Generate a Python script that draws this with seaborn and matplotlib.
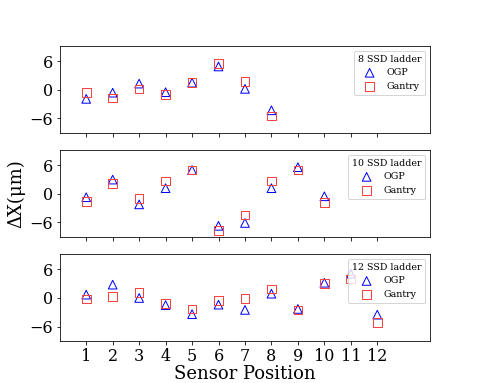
import numpy as np
import pandas as pd
import matplotlib
matplotlib.use('Agg')
import matplotlib.pyplot as plt
import seaborn as sns

plt.rcParams['font.family'] = ['DejaVu Serif']

ladders = ['8 SSD ladder', '10 SSD ladder', '12 SSD ladder']

ogp_8 = [-1.9, -0.6, 1.3, -0.5, 1.5, 4.9, 0.2, -4.3]
gantry_8 = [-0.5, -1.7, 0.2, -1.0, 1.5, 5.5, 1.7, -5.5]

ogp_10 = [-0.7, 3.0, -2.2, 1.2, 5.0, -6.7, -6.1, 1.2, 5.6, -0.5]
gantry_10 = [-1.6, 2.2, -1.0, 2.7, 5.0, -7.7, -4.4, 2.7, 5.0, -1.8]

ogp_12 = [0.7, 2.8, 0.0, -1.5, -3.4, -1.4, -2.5, 0.9, -2.3, 3.2, 5.1, -3.5]
gantry_12 = [-0.2, 0.35, 1.1, -1.1, -2.3, -0.5, -0.1, 1.9, -2.5, 3.0, 4.0, -5.1]

positions = list(range(1, 13))


def ladder_frame(ogp, gantry):
    n = len(ogp)
    return pd.DataFrame({
        'pos': positions[:n] * 2,
        'dx': ogp + gantry,
        'src': ['OGP'] * n + ['Gantry'] * n,
    })


data = [ladder_frame(ogp_8, gantry_8),
        ladder_frame(ogp_10, gantry_10),
        ladder_frame(ogp_12, gantry_12)]

DPI = 72
fig, axes = plt.subplots(3, 1, figsize=(478 / DPI, 383 / DPI), dpi=DPI, sharex=True)

for ax, df, name in zip(axes, data, ladders):
    ogp = df[df.src == 'OGP']
    gan = df[df.src == 'Gantry']
    sns.scatterplot(x=ogp.pos, y=ogp.dx, ax=ax, marker='^', s=75,
                    facecolors='none', edgecolor='blue', linewidth=1, label='OGP')
    sns.scatterplot(x=gan.pos, y=gan.dx, ax=ax, marker='s', s=75,
                    facecolors='none', edgecolor='#ff4040', linewidth=1, label='Gantry')
    ax.set_xlim(0, 14)
    ax.set_ylim(-9, 9.2)
    ax.set_yticks([-6, 0, 6])
    ax.set_xticks(positions)
    ax.tick_params(labelsize=16)
    ax.set_xlabel('')
    ax.set_ylabel('')
    ax.legend(title=name, loc='upper right', fontsize=9.5, title_fontsize=9.5)

axes[1].set_ylabel('ΔX(μm)', fontsize=18)
axes[2].set_xlabel('Sensor Position', fontsize=18, labelpad=0)

fig.savefig('out.png', dpi=DPI)
